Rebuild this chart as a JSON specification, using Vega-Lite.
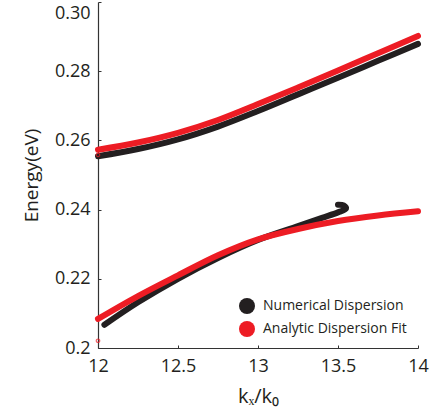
{
  "$schema": "https://vega.github.io/schema/vega-lite/v6.json",
  "width": 320,
  "height": 346,
  "autosize": {"type": "none"},
  "padding": {"left": 98, "top": 2, "right": 19, "bottom": 71},
  "background": "white",
  "config": {
    "view": {"stroke": null},
    "font": "Open Sans"
  },
  "datasets": {
    "curves": [
      {"series": "Numerical Dispersion", "branch": "upper", "i": 1, "k": 12.0, "E": 0.2554},
      {"series": "Numerical Dispersion", "branch": "upper", "i": 2, "k": 12.25, "E": 0.2575},
      {"series": "Numerical Dispersion", "branch": "upper", "i": 3, "k": 12.5, "E": 0.2603},
      {"series": "Numerical Dispersion", "branch": "upper", "i": 4, "k": 12.75, "E": 0.2640},
      {"series": "Numerical Dispersion", "branch": "upper", "i": 5, "k": 13.0, "E": 0.2685},
      {"series": "Numerical Dispersion", "branch": "upper", "i": 6, "k": 13.25, "E": 0.2733},
      {"series": "Numerical Dispersion", "branch": "upper", "i": 7, "k": 13.5, "E": 0.2781},
      {"series": "Numerical Dispersion", "branch": "upper", "i": 8, "k": 13.75, "E": 0.2830},
      {"series": "Numerical Dispersion", "branch": "upper", "i": 9, "k": 14.0, "E": 0.2879},
      {"series": "Numerical Dispersion", "branch": "lower", "i": 1, "k": 12.04, "E": 0.2067},
      {"series": "Numerical Dispersion", "branch": "lower", "i": 2, "k": 12.25, "E": 0.2132},
      {"series": "Numerical Dispersion", "branch": "lower", "i": 3, "k": 12.5, "E": 0.2200},
      {"series": "Numerical Dispersion", "branch": "lower", "i": 4, "k": 12.75, "E": 0.2260},
      {"series": "Numerical Dispersion", "branch": "lower", "i": 5, "k": 13.0, "E": 0.2312},
      {"series": "Numerical Dispersion", "branch": "lower", "i": 6, "k": 13.25, "E": 0.2352},
      {"series": "Numerical Dispersion", "branch": "lower", "i": 7, "k": 13.4, "E": 0.2376},
      {"series": "Numerical Dispersion", "branch": "lower", "i": 8, "k": 13.5, "E": 0.2392},
      {"series": "Numerical Dispersion", "branch": "lower", "i": 9, "k": 13.55, "E": 0.2403},
      {"series": "Numerical Dispersion", "branch": "lower", "i": 10, "k": 13.535, "E": 0.2412},
      {"series": "Numerical Dispersion", "branch": "lower", "i": 11, "k": 13.5, "E": 0.2414},
      {"series": "Analytic Dispersion Fit", "branch": "upper", "i": 1, "k": 12.0, "E": 0.2573},
      {"series": "Analytic Dispersion Fit", "branch": "upper", "i": 2, "k": 12.25, "E": 0.2594},
      {"series": "Analytic Dispersion Fit", "branch": "upper", "i": 3, "k": 12.5, "E": 0.2622},
      {"series": "Analytic Dispersion Fit", "branch": "upper", "i": 4, "k": 12.75, "E": 0.2659},
      {"series": "Analytic Dispersion Fit", "branch": "upper", "i": 5, "k": 13.0, "E": 0.2705},
      {"series": "Analytic Dispersion Fit", "branch": "upper", "i": 6, "k": 13.25, "E": 0.2753},
      {"series": "Analytic Dispersion Fit", "branch": "upper", "i": 7, "k": 13.5, "E": 0.2802},
      {"series": "Analytic Dispersion Fit", "branch": "upper", "i": 8, "k": 13.75, "E": 0.2852},
      {"series": "Analytic Dispersion Fit", "branch": "upper", "i": 9, "k": 14.0, "E": 0.2902},
      {"series": "Analytic Dispersion Fit", "branch": "lower", "i": 1, "k": 12.0, "E": 0.2084},
      {"series": "Analytic Dispersion Fit", "branch": "lower", "i": 2, "k": 12.25, "E": 0.2150},
      {"series": "Analytic Dispersion Fit", "branch": "lower", "i": 3, "k": 12.5, "E": 0.2210},
      {"series": "Analytic Dispersion Fit", "branch": "lower", "i": 4, "k": 12.75, "E": 0.2268},
      {"series": "Analytic Dispersion Fit", "branch": "lower", "i": 5, "k": 13.0, "E": 0.2314},
      {"series": "Analytic Dispersion Fit", "branch": "lower", "i": 6, "k": 13.25, "E": 0.2344},
      {"series": "Analytic Dispersion Fit", "branch": "lower", "i": 7, "k": 13.5, "E": 0.2367},
      {"series": "Analytic Dispersion Fit", "branch": "lower", "i": 8, "k": 13.75, "E": 0.2383},
      {"series": "Analytic Dispersion Fit", "branch": "lower", "i": 9, "k": 14.0, "E": 0.2395}
    ],
    "dots": [
      {"k": 12.0, "E": 0.2021},
      {"k": 12.0, "E": 0.2558}
    ]
  },
  "layer": [
    {
      "data": {"name": "curves"},
      "mark": {"type": "line", "strokeWidth": 6, "strokeCap": "round", "interpolate": "catmull-rom"},
      "encoding": {
        "x": {
          "field": "k", "type": "quantitative",
          "scale": {"domain": [12, 14], "nice": false, "zero": false},
          "axis": {
            "title": "kₓ/k₀",
            "titleFont": "Open Sans", "titleFontSize": 20, "titleFontWeight": "normal", "titleColor": "#231f20",
            "titlePadding": 11,
            "values": [12, 12.5, 13, 13.5, 14],
            "labelExpr": "format(datum.value, '~g')",
            "labelFont": "Open Sans", "labelFontSize": 18, "labelColor": "#231f20",
            "labelPadding": 12, "labelFlush": false,
            "tickSize": -3, "tickColor": "#333333",
            "domainColor": "#333333", "domainWidth": 1.2,
            "grid": false
          }
        },
        "y": {
          "field": "E", "type": "quantitative",
          "scale": {"domain": [0.2, 0.3], "nice": false, "zero": false},
          "axis": {
            "title": "Energy(eV)",
            "titleFont": "Open Sans", "titleFontSize": 19, "titleFontWeight": "normal", "titleColor": "#231f20",
            "titlePadding": 13,
            "values": [0.2, 0.22, 0.24, 0.26, 0.28, 0.3],
            "labelExpr": "datum.value < 0.201 ? '0.2' : format(datum.value, '.2f')",
            "labelBaseline": {"condition": {"test": "datum.value > 0.299", "value": "top"}, "value": "middle"},
            "labelOffset": {"condition": {"test": "datum.value > 0.299", "value": 2}, "value": 0},
            "labelFont": "Open Sans", "labelFontSize": 18, "labelColor": "#231f20",
            "labelPadding": 11, "labelFlush": false,
            "tickSize": -3, "tickColor": "#333333",
            "domainColor": "#333333", "domainWidth": 1.2,
            "grid": false
          }
        },
        "color": {
          "field": "series", "type": "nominal",
          "scale": {"domain": ["Numerical Dispersion", "Analytic Dispersion Fit"], "range": ["#231f20", "#ed1c24"]},
          "legend": {
            "title": null,
            "orient": "none",
            "legendX": 141,
            "legendY": 296,
            "padding": 0,
            "symbolType": "circle",
            "symbolSize": 256,
            "symbolStrokeWidth": 0,
            "labelFont": "Open Sans",
            "labelFontSize": 14,
            "labelColor": "#231f20",
            "labelOffset": 8,
            "rowPadding": 7,
            "encode": {"symbols": {"update": {"fill": {"scale": "color", "field": "value"}, "strokeWidth": {"value": 0}}}}
          }
        },
        "detail": {"field": "branch", "type": "nominal"},
        "order": {"field": "i", "type": "quantitative"}
      }
    },
    {
      "data": {"name": "dots"},
      "mark": {"type": "point", "shape": "circle", "size": 12, "stroke": "#ed1c24", "strokeWidth": 1.2, "filled": false},
      "encoding": {
        "x": {"field": "k", "type": "quantitative"},
        "y": {"field": "E", "type": "quantitative"}
      }
    }
  ]
}
